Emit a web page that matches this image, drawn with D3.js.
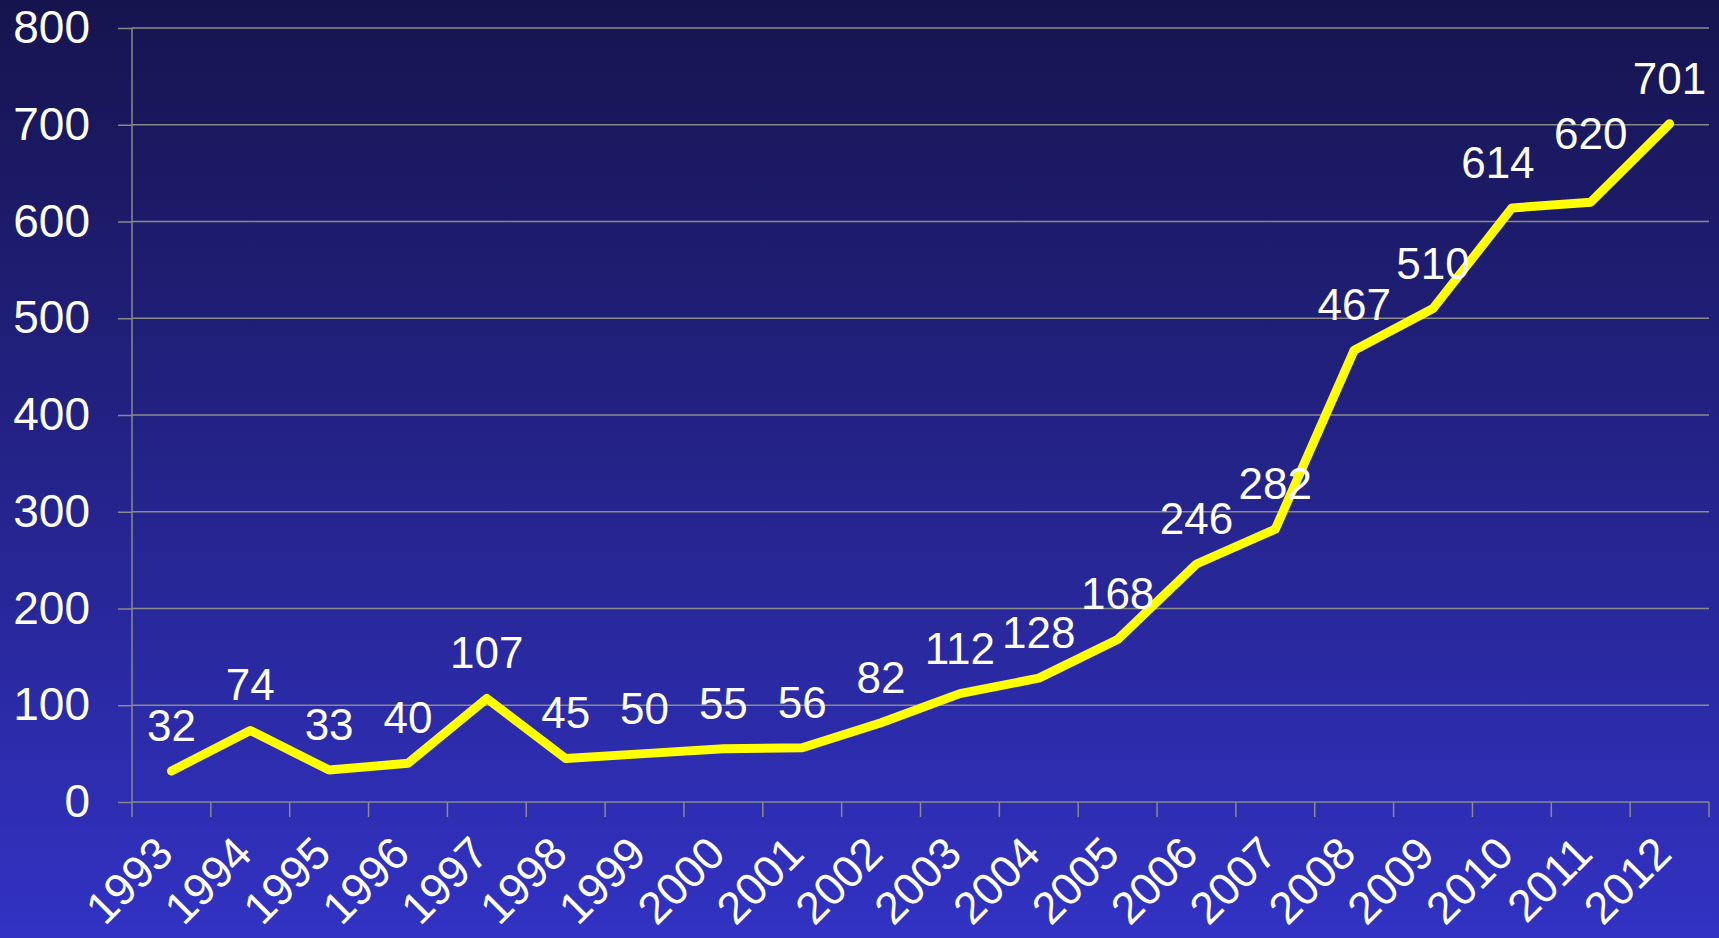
<!DOCTYPE html>
<html>
<head>
<meta charset="utf-8">
<script src="https://cdn.jsdelivr.net/npm/d3@7"></script>
<style>
  html, body { margin: 0; padding: 0; overflow: hidden; }
  svg { display: block; font-family: "Liberation Sans", Arial, sans-serif; }
</style>
</head>
<body>
<svg id="chart" width="1719" height="938"></svg>
<script>
var years = ["1993", "1994", "1995", "1996", "1997", "1998", "1999", "2000", "2001", "2002",
  "2003", "2004", "2005", "2006", "2007", "2008", "2009", "2010", "2011", "2012"];
var counts = [32, 74, 33, 40, 107, 45, 50, 55, 56, 82, 112, 128, 168, 246, 282, 467, 510, 614, 620, 701];
var yTicks = [0, 100, 200, 300, 400, 500, 600, 700, 800];

var width = 1719, height = 938;
var margin = { left: 132, right: 1709, top: 28, bottom: 802 };

var svg = d3.select("#chart");

// background gradient
var grad = svg.append("defs").append("linearGradient")
  .attr("id", "bg").attr("x1", 0).attr("y1", 0).attr("x2", 0).attr("y2", 1);
grad.append("stop").attr("offset", "0%").attr("stop-color", "#16144e");
grad.append("stop").attr("offset", "100%").attr("stop-color", "#3232c4");
svg.append("rect").attr("width", width).attr("height", height).attr("fill", "url(#bg)");

var x = d3.scaleBand().domain(years).range([margin.left, margin.right]);
var y = d3.scaleLinear().domain([0, 800]).range([margin.bottom, margin.top]);

// gridlines
svg.append("g")
  .selectAll("line")
  .data(yTicks.slice(1))
  .join("line")
  .attr("x1", margin.left).attr("x2", margin.right)
  .attr("y1", d => y(d)).attr("y2", d => y(d))
  .attr("stroke", "#8a8a8a").attr("stroke-width", 1.3);

// y axis
var yAxis = svg.append("g")
  .attr("transform", "translate(" + margin.left + ",0)")
  .call(d3.axisLeft(y).tickValues(yTicks).tickSize(14).tickPadding(28));
yAxis.selectAll("path, line").attr("stroke", "#8a8a8a").attr("stroke-width", 1.5);
yAxis.select("path").attr("d", "M0," + margin.top + "V" + margin.bottom);
yAxis.selectAll("text")
  .attr("fill", "#fff").style("font-size", "46px").attr("font-family", null);

// x axis: ticks at band boundaries
var xAxis = svg.append("g").attr("transform", "translate(0," + margin.bottom + ")");
xAxis.append("line").attr("x1", margin.left).attr("x2", margin.right)
  .attr("stroke", "#8a8a8a").attr("stroke-width", 1.5);
xAxis.selectAll("line.tick")
  .data(years.concat(["end"]))
  .join("line")
  .attr("class", "tick")
  .attr("x1", (d, i) => i < years.length ? x(d) : margin.right)
  .attr("x2", (d, i) => i < years.length ? x(d) : margin.right)
  .attr("y1", 0).attr("y2", 15)
  .attr("stroke", "#8a8a8a").attr("stroke-width", 1.5);
xAxis.selectAll("text")
  .data(years)
  .join("text")
  .attr("transform", d => "translate(" + (x(d) + x.bandwidth() / 2 + 4) + ",54) rotate(-45)")
  .attr("text-anchor", "end")
  .attr("fill", "#fff")
  .style("font-size", "45px")
  .text(d => d);

// line
var line = d3.line()
  .x((d, i) => x(years[i]) + x.bandwidth() / 2)
  .y(d => y(d));
svg.append("path")
  .datum(counts)
  .attr("d", line)
  .attr("fill", "none")
  .attr("stroke", "#ffff00")
  .attr("stroke-width", 9)
  .attr("stroke-linejoin", "round")
  .attr("stroke-linecap", "round");

// value labels (two were moved by hand in the original)
var nudge = { "2010": [-14, 0], "2011": [0, -23] };
svg.append("g")
  .selectAll("text")
  .data(counts)
  .join("text")
  .attr("x", (d, i) => x(years[i]) + x.bandwidth() / 2 + (nudge[years[i]] ? nudge[years[i]][0] : 0))
  .attr("y", (d, i) => y(d) - 30 + (nudge[years[i]] ? nudge[years[i]][1] : 0))
  .attr("text-anchor", "middle")
  .attr("fill", "#fff")
  .style("font-size", "44px")
  .text(d => d);
</script>
</body>
</html>
